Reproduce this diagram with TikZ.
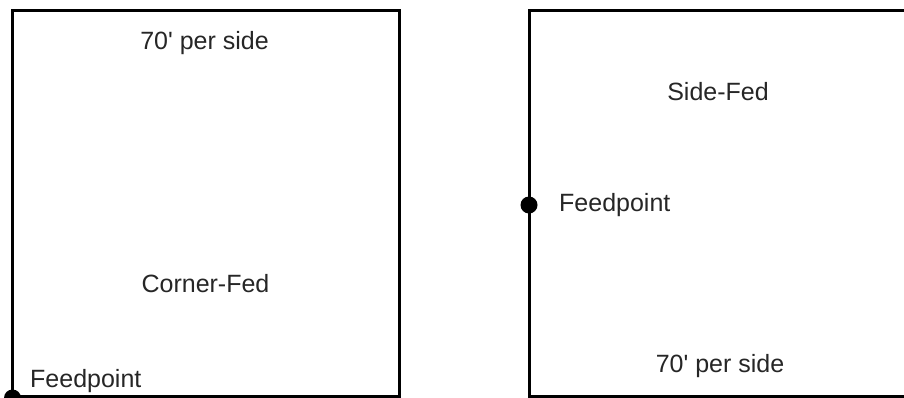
\documentclass[tikz,border=0pt]{standalone}
\usepackage{fontspec}
\setmainfont{Liberation Sans}
\tikzset{wire/.style={draw=black,line width=3pt,line join=miter},
 lab/.style={inner sep=0pt,font=\fontsize{25}{28}\selectfont,text=black!85},
 feed/.style={circle,fill=black,inner sep=0pt,minimum size=17pt}}
\begin{document}
\begin{tikzpicture}[x=1pt,y=-1pt]
\useasboundingbox (0,0) rectangle (904,397);
\clip (0,0) rectangle (904,397);
\coordinate (a1) at (12.5,10.5); \coordinate (a2) at (399.5,10.5);
\coordinate (a3) at (399.5,396); \coordinate (a4) at (12.5,396);
\coordinate (b1) at (529.5,10.5); \coordinate (b2) at (915,10.5);
\coordinate (b3) at (915,396); \coordinate (b4) at (529.5,396);
\path[wire] (a1) -- (a2) -- (a3) -- (a4) -- cycle;
\path[wire] (b1) -- (b2) -- (b3) -- (b4) -- cycle;
\node[feed] (f1) at (12.5,398) {};
\node[feed] (f2) at (529,205) {};
\node[lab,anchor=base] (t1) at (204.5,49) {70\textquotesingle{} per side};
\node[lab,anchor=base] (t2) at (205.5,292) {Corner-Fed};
\node[lab,anchor=base west] (t3) at (30,387.5) {Feedpoint};
\node[lab,anchor=base] (t4) at (718,100) {Side-Fed};
\node[lab,anchor=base west] (t5) at (559,211.5) {Feedpoint};
\node[lab,anchor=base] (t6) at (720,372.5) {70\textquotesingle{} per side};
\end{tikzpicture}
\end{document}
